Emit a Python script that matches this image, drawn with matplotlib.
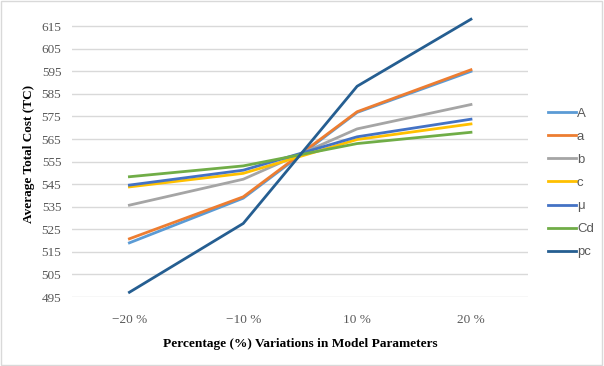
import numpy as np
import matplotlib.pyplot as plt

categories = ["\u221220 %", "\u221210 %", "10 %", "20 %"]
A = [519.0, 538.8, 576.8, 595.0]
a = [520.8, 539.4, 577.1, 595.7]
b = [535.7, 547.2, 569.5, 580.3]
c = [543.8, 549.8, 564.8, 571.7]
mu = [544.6, 551.2, 566.0, 573.8]
Cd = [548.3, 553.1, 563.0, 568.0]
pc = [497.1, 527.6, 588.4, 618.1]

series = [("A", A, "#5B9BD5"), ("a", a, "#ED7D31"), ("b", b, "#A5A5A5"),
          ("c", c, "#FFC000"), ("\u03bc", mu, "#4472C4"), ("Cd", Cd, "#70AD47"),
          ("pc", pc, "#255E91")]

plt.rcParams['font.family'] = ['Liberation Serif', 'DejaVu Serif']

fig = plt.figure(figsize=(6.04, 3.66), dpi=100)
ax = fig.add_axes([0.120, 0.1885, 0.754, 0.783])

x = np.arange(len(categories))
for name, vals, col in series:
    ax.plot(x, vals, color=col, linewidth=2.0, label=name)

ax.set_xlim(-0.5, 3.5)
ax.set_ylim(495, 622)
ax.set_yticks(np.arange(495, 616, 10))
ax.set_xticks(x)
ax.set_xticklabels(categories)
ax.grid(axis='y', color='#D9D9D9', linewidth=1)
ax.set_axisbelow(True)
for s in ax.spines.values():
    s.set_visible(False)
ax.tick_params(length=0, labelsize=9.5, colors='#595959')
ax.tick_params(axis='y', pad=8)
ax.tick_params(axis='x', pad=12)

ax.set_ylabel("Average Total Cost (TC)", fontsize=9.5, fontweight='bold', labelpad=5)
ax.set_xlabel("Percentage (%) Variations in Model Parameters", fontsize=9.6,
              fontweight='bold', labelpad=9)

leg = ax.legend(loc='center left', bbox_to_anchor=(1.018, 0.398), frameon=False,
                prop={'family': ['Liberation Sans', 'DejaVu Sans'], 'size': 9.5},
                handlelength=2.1, handletextpad=0.1, labelspacing=0.82)
for t in leg.get_texts():
    t.set_color('#595959')

fig.patches.append(plt.Rectangle((0.002, 0.003), 0.995, 0.994, transform=fig.transFigure,
                                 fill=False, edgecolor='#D9D9D9', linewidth=1))

fig.savefig("out.png", dpi=100)
